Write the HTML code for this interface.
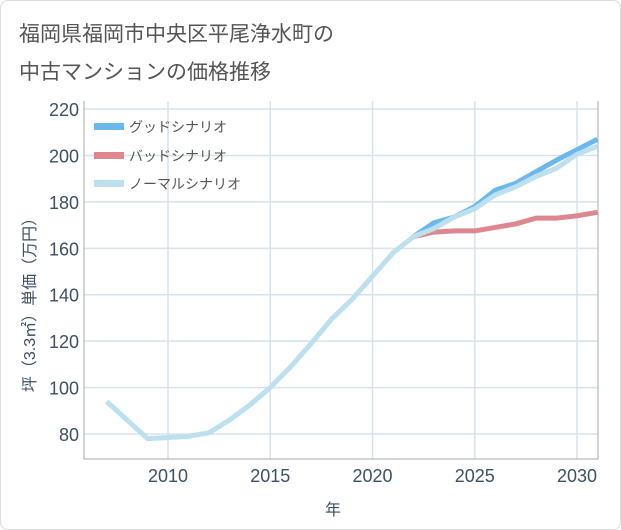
<!DOCTYPE html>
<html><head><meta charset="utf-8"><style>
body{margin:0;background:#fff;font-family:"Liberation Sans","Noto Sans CJK JP",sans-serif;}
#wrap{position:relative;width:619px;height:528px;border:1px solid #ddd;border-radius:8px;overflow:hidden;}
</style></head><body>
<div id="wrap">
<svg id="chart" width="621" height="530">
<text x="18" y="40" font-size="21" fill="#555">福岡県福岡市中央区平尾浄水町の</text>
<text x="18" y="78" font-size="21" fill="#555">中古マンションの価格推移</text>
<g id="grid"></g><g id="series"></g><g id="axes"></g>
<text x="332" y="514" font-size="16" fill="#3d5064" text-anchor="middle">年</text>
<text transform="translate(34,300) rotate(-90)" font-size="16" fill="#3d5064" text-anchor="middle">坪（3.3㎡）単価（万円）</text>
<g>
<rect x="93" y="122" width="30" height="7" fill="#6bb8ef"/>
<text x="128" y="131" font-size="14" fill="#555">グッドシナリオ</text>
<rect x="93" y="151" width="30" height="7" fill="#de878f"/>
<text x="128" y="160" font-size="14" fill="#555">バッドシナリオ</text>
<rect x="93" y="179" width="30" height="7" fill="#bde0ef"/>
<text x="128" y="188" font-size="14" fill="#555">ノーマルシナリオ</text>
</g>
</svg></div>
<script>
const normalYears=[2007,2008,2009,2010,2011,2012,2013,2014,2015,2016,2017,2018,2019,2020,2021,2022,2023,2024,2025,2026,2027,2028,2029,2030,2031];
const normalValues=[94,86,78,78.5,79,80.5,86,92.5,100,109,119,129.5,138,148,158,165,168.5,173.5,177,183,186.5,191,194.5,200.5,204];
const scenarioYears=[2022,2023,2024,2025,2026,2027,2028,2029,2030,2031];
const goodValues=[165,171,173.5,178,185,188,193,198,202.5,207];
const badValues=[165,167,167.5,167.5,169,170.5,173,173,174,175.5];
const xTicks=[2010,2015,2020,2025,2030];
const yTicks=[80,100,120,140,160,180,200,220];
const L=83,R=597,T=100,B=458;
const xs=y=>167+(y-2010)*20.45;
const ys=v=>433-(v-80)*2.321;
const NS="http://www.w3.org/2000/svg";
function mk(p,tag,a){const e=document.createElementNS(NS,tag);for(const k in a)e.setAttribute(k,a[k]);document.getElementById(p).appendChild(e);return e;}
xTicks.forEach(t=>{const l=mk('grid','line',{x1:xs(t),x2:xs(t),y1:T,y2:B,stroke:'#d5e3ec','stroke-width':1.5});


const tx=mk('axes','text',{x:xs(t),y:481,'font-size':18,fill:'#3d5064','text-anchor':'middle'});tx.textContent=t;

});
yTicks.forEach(t=>{const l=mk('grid','line',{x1:L,x2:R,y1:ys(t),y2:ys(t),stroke:'#d5e3ec','stroke-width':1.5});


const tx=mk('axes','text',{x:78,y:ys(t)+7,'font-size':18,fill:'#3d5064','text-anchor':'end'});tx.textContent=t;

});
const ax=mk('axes','path',{d:`M${L} ${T}V${B}H${R}V${T}`,fill:'none',stroke:'#aaa','stroke-width':1});


function line(yrs,vals,c,n){const p=mk('series','polyline',{points:yrs.map((y,i)=>xs(y)+','+ys(vals[i])).join(' '),fill:'none',stroke:c,'stroke-width':5,'stroke-linejoin':'round'});

}
line(scenarioYears,badValues,'#de878f','line-bad');
line(scenarioYears,goodValues,'#6bb8ef','line-good');
line(normalYears,normalValues,'#bde0ef','line-normal');
</script>
</body></html>
